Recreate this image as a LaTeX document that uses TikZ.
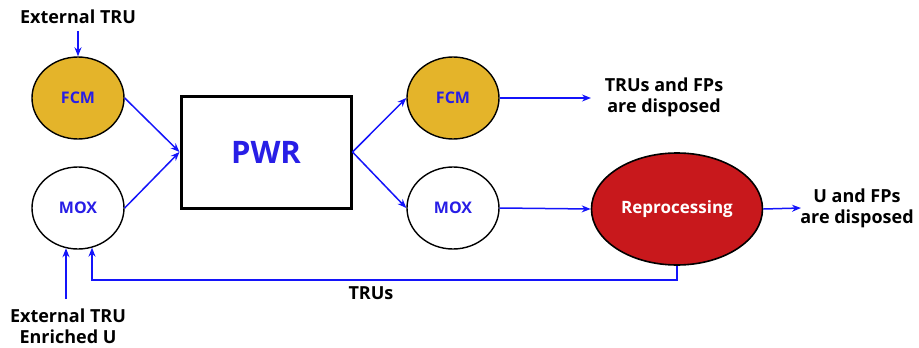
\documentclass[tikz,border=0pt]{standalone}
\usepackage{fontspec}
\setmainfont{Open Sans}
\usetikzlibrary{shapes.geometric,arrows.meta}
\definecolor{flowblue}{RGB}{20,20,250}
\definecolor{txtblue}{RGB}{40,30,230}
\definecolor{gold}{RGB}{228,180,42}
\definecolor{repred}{RGB}{200,24,28}
\tikzset{
  arr/.style={draw=flowblue, line width=1.5pt, -{Stealth[length=9pt,width=7pt]}},
  oval/.style={ellipse, draw=black, line width=1.4pt, inner sep=0pt, minimum width=92pt, minimum height=82pt,
     font=\fontsize{16}{18}\selectfont\bfseries, text=txtblue},
  lbl/.style={font=\fontsize{18}{21}\selectfont\bfseries, text=black, align=center, inner sep=0pt},
}
\begin{document}
\begin{tikzpicture}[x=1pt,y=-1pt]
\useasboundingbox (0,0) rectangle (919,348);
\node[oval, fill=gold] (fcmL) at (78,98) {FCM};
\node[oval, fill=white] (moxL) at (78,208) {MOX};
\node[draw=black, line width=3pt, minimum width=170pt, minimum height=112pt, inner sep=0pt,
      font=\fontsize{31}{34}\selectfont\bfseries, text=txtblue] (pwr) at (266,152) {PWR};
\node[oval, fill=gold] (fcmR) at (453,98) {FCM};
\node[oval, fill=white] (moxR) at (453,208) {MOX};
\node[ellipse, draw=black, line width=1.6pt, fill=repred, inner sep=0pt, minimum width=171pt, minimum height=112pt,
      font=\fontsize{17}{20}\selectfont\bfseries, text=white] (repro) at (677,209) {Reprocessing};

\node[lbl] (ext1) at (78,17) {External TRU};
\node[lbl] (ext2) at (68,326) {External TRU\\Enriched U};
\node[lbl] (out1) at (664,97) {TRUs and FPs\\are disposed};
\node[lbl] (out2) at (857,208) {U and FPs\\are disposed};
\node[lbl] (trus) at (371,293) {TRUs};

\coordinate (e1s) at (78,31);
\coordinate (e2s) at (66,299);
\coordinate (o1) at (591,98);
\coordinate (o2) at (801,208);
\coordinate (fb) at (92,280);

\draw[arr] (e1s) -- (fcmL.north);
\draw[arr] (e2s) -- (e2s |- moxL.-107);
\draw[arr] (fcmL.east) -- (pwr.west);
\draw[arr] (moxL.east) -- (pwr.west);
\draw[arr] (pwr.east) -- (fcmR.west);
\draw[arr] (pwr.east) -- (moxR.west);
\draw[arr] (fcmR.east) -- (o1);
\draw[arr] (moxR.east) -- (repro.west);
\draw[arr] (repro.east) -- (o2);
\draw[arr] (repro.south) |- (fb) -- (fb |- moxL.-70);
\end{tikzpicture}
\end{document}
